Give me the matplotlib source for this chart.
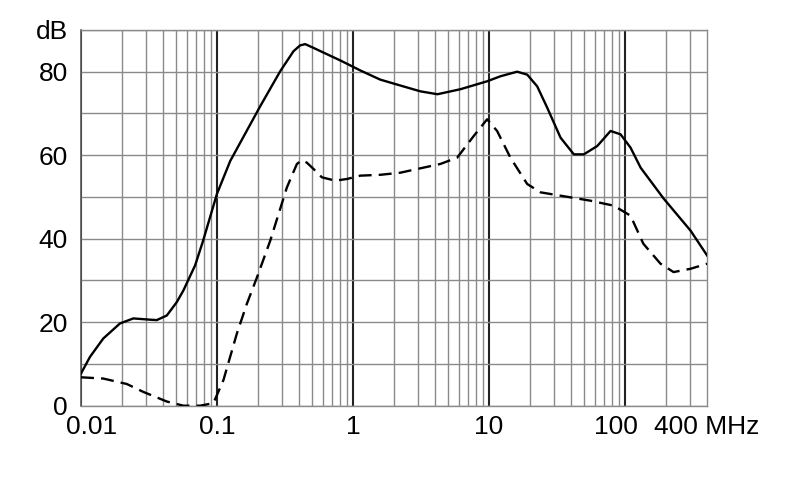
import numpy as np
import matplotlib
matplotlib.use('Agg')
import matplotlib.pyplot as plt
from matplotlib.ticker import FixedLocator, NullFormatter
from matplotlib.transforms import ScaledTranslation

plt.rcParams['font.family'] = ['Liberation Sans', 'DejaVu Sans']

# 실선 곡선 (MHz, dB)
solid_freq = [0.01, 0.01165, 0.01459, 0.01936, 0.02425, 0.03219, 0.03606, 0.04273,
              0.05059, 0.0566, 0.069, 0.079, 0.0998, 0.125, 0.2075, 0.2913, 0.3648,
              0.408, 0.445, 0.512, 0.642, 0.805, 0.982, 1.13, 1.585, 2.22, 3.12,
              4.17, 6.15, 9.67, 12.1, 16.07, 19.05, 22.56, 26.72, 33.5, 41.97,
              49.7, 62.4, 78.1, 92.5, 109.6, 130, 192, 303, 400]
solid_db = [7.7, 11.7, 16.1, 19.7, 20.9, 20.6, 20.5, 21.6,
            24.8, 27.6, 33.6, 39.5, 50.7, 58.6, 71.7, 80.1, 84.9,
            86.3, 86.6, 85.7, 84.2, 82.7, 81.3, 80.3, 78.1, 76.7, 75.3,
            74.6, 75.8, 77.7, 78.9, 80.0, 79.3, 76.5, 71.4, 64.2, 60.2,
            60.2, 62.2, 65.8, 65.0, 61.8, 57.0, 49.6, 41.9, 36.0]

# 점선 곡선 (MHz, dB)
dashed_freq = [0.01, 0.01459, 0.0217, 0.02873, 0.04273, 0.0566, 0.0751, 0.094,
               0.1114, 0.14, 0.1657, 0.197, 0.246, 0.3264, 0.3866, 0.4207, 0.458,
               0.512, 0.59, 0.74, 0.902, 1.13, 1.585, 2.22, 2.97, 4.385, 5.82,
               7.71, 9.67, 11.45, 14.35, 19.05, 23.88, 33.5, 55.6, 82.6, 109.6,
               136, 182, 227, 303, 400]
dashed_db = [6.8, 6.5, 5.2, 3.3, 1.0, 0.0, 0.0, 0.6,
             6.1, 17.3, 24.4, 30.8, 39.5, 52.3, 57.9, 58.8, 58.2,
             56.7, 54.7, 53.9, 54.3, 55.1, 55.3, 55.8, 56.7, 57.9, 59.4,
             64.6, 68.6, 65.8, 59.4, 53.1, 51.1, 50.3, 49.1, 47.9, 45.5,
             38.8, 34.0, 32.0, 32.8, 34.0]

x_ticks = [0.01, 0.1, 1, 10, 100, 400]
x_labels = ['0.01', '0.1', '1', '10', '100', '400 MHz']
y_ticks = [0, 20, 40, 60, 80, 90]
y_labels = ['0', '20', '40', '60', '80', 'dB']

fig = plt.figure(figsize=(7.9, 4.99), dpi=100)
ax = fig.add_axes([0.1025, 0.187, 0.7925, 0.753])

ax.plot(solid_freq, solid_db, color='black', linewidth=1.7,
        solid_joinstyle='round', zorder=3)
ax.plot(dashed_freq, dashed_db, color='black', linewidth=1.7,
        linestyle=(0, (5.5, 3)), dash_joinstyle='round', zorder=3)

ax.set_xscale('log')
ax.set_xlim(0.01, 400)
ax.set_ylim(0, 90)

ax.xaxis.set_major_locator(FixedLocator(x_ticks))
ax.set_xticklabels(x_labels)
minor_x = [m * 10.0 ** e for e in range(-2, 3) for m in range(2, 10) if m * 10.0 ** e < 400]
ax.xaxis.set_minor_locator(FixedLocator(minor_x))
ax.xaxis.set_minor_formatter(NullFormatter())

ax.set_yticks(y_ticks)
ax.set_yticklabels(y_labels)
ax.yaxis.set_minor_locator(FixedLocator([10, 30, 50, 70]))

ax.tick_params(which='both', length=0, labelsize=19)
ax.tick_params(axis='x', pad=6.5)
ax.tick_params(axis='y', pad=9.5)

# 격자: 10진 배수는 진한 선, 나머지는 회색
ax.grid(which='minor', color='#8a8a8a', linewidth=1.0, zorder=1)
ax.grid(which='major', axis='y', color='#8a8a8a', linewidth=1.0, zorder=1)
ax.grid(which='major', axis='x', color='#222222', linewidth=1.5, zorder=1)
ax.xaxis.get_major_ticks()[-1].gridline.set_visible(False)
ax.set_axisbelow(True)

for side in ['top', 'right', 'bottom']:
    ax.spines[side].set_color('#8a8a8a')
    ax.spines[side].set_linewidth(1.0)
ax.spines['left'].set_color('#555555')
ax.spines['left'].set_linewidth(1.2)

# 라벨 위치 미세 조정
labels = ax.get_xticklabels()
labels[0].set_transform(labels[0].get_transform() + ScaledTranslation(11 / 100, 0, fig.dpi_scale_trans))
labels[4].set_transform(labels[4].get_transform() + ScaledTranslation(-9 / 100, 0, fig.dpi_scale_trans))

fig.savefig('out.png', dpi=100)
